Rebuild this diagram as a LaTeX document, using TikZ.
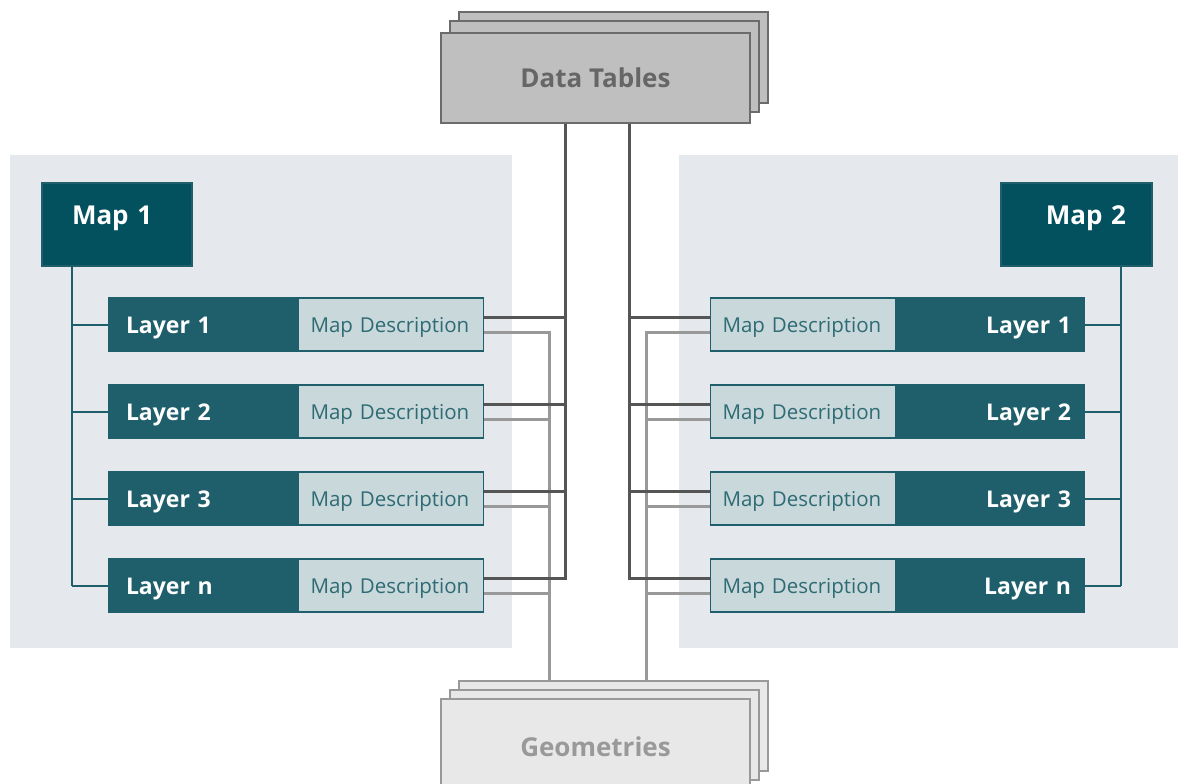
\documentclass[tikz,border=0pt]{standalone}
\usepackage{fontspec}
\setmainfont{Open Sans}
\usetikzlibrary{positioning}
\definecolor{panelbg}{HTML}{E5E9ED}
\definecolor{mapfill}{HTML}{03505E}
\definecolor{layerfill}{HTML}{1F5F6B}
\definecolor{descfill}{HTML}{C8D8DB}
\definecolor{desctext}{HTML}{2F6B74}
\definecolor{darkwire}{HTML}{555555}
\definecolor{lightwire}{HTML}{999999}
\tikzstyle{dtbox} = [rectangle, draw=black!58, line width=2pt, fill=black!25, minimum width=309pt, minimum height=90pt, text=black!60, font=\bfseries\fontsize{26}{26}\selectfont]
\tikzstyle{geobox} = [rectangle, draw=black!40, line width=2pt, fill=black!9, minimum width=309pt, minimum height=90pt, text=black!40, font=\bfseries\fontsize{26}{26}\selectfont]
\tikzstyle{mapbox} = [rectangle, draw=layerfill, line width=1.5pt, fill=mapfill, text=white, minimum width=150pt, minimum height=83pt, inner xsep=30pt, text width=90pt, text height=19pt, text depth=19pt, font=\bfseries\fontsize{26}{26}\selectfont]
\tikzstyle{layerL} = [rectangle, draw=layerfill, line width=1.5pt, fill=layerfill, text=white, minimum height=53pt, inner xsep=17pt, text width=154pt, align=left, text height=17pt, text depth=0pt, font=\bfseries\fontsize{23}{23}\selectfont]
\tikzstyle{layerR} = [layerL, inner xsep=13pt, text width=161pt, align=right]
\tikzstyle{descL} = [rectangle, draw=layerfill, line width=1.5pt, fill=descfill, text=desctext, minimum height=53pt, inner xsep=12pt, text width=161pt, align=left, text height=15pt, text depth=0pt, font=\fontsize{20.5}{21}\selectfont]
\tikzstyle{treeline} = [layerfill, line width=2pt]
\tikzstyle{darkline} = [darkwire, line width=3pt]
\tikzstyle{lightline} = [lightwire, line width=3pt]

\begin{document}
\begin{tikzpicture}[x=1pt, y=-1pt]
\useasboundingbox (0,0) rectangle (1178,784);
\clip (0,0) rectangle (1178,784);
\fill[panelbg] (10,155) rectangle (512,648);
\fill[panelbg] (679,155) rectangle (1178,648);

\node (dt3) [dtbox] at (613.5,57.5) {};
\node (dt2) [dtbox] at (604.5,66.5) {};
\node (dt) [dtbox, text height=19pt, text depth=0pt] at (595.5,78) {Data Tables};
\node (geo3) [geobox] at (613.5,726) {};
\node (geo2) [geobox] at (604.5,735) {};
\node (geo) [geobox, text height=24pt, text depth=0pt] at (595.5,744) {Geometries};

\coordinate (dtL) at ([xshift=-30.5pt]dt.south);
\coordinate (dtR) at ([xshift=33.5pt]dt.south);
\coordinate (geoL) at ([xshift=-64.5pt]geo3.north);
\coordinate (geoR) at ([xshift=32.5pt]geo3.north);

\node (m1) [mapbox, align=left] at (117,224.5) {Map 1};
\node (m2) [mapbox, align=right, inner xsep=26pt, text width=99pt] at (1076.5,224.5) {Map 2};
\coordinate (treeL) at ([xshift=-45pt]m1.south);
\coordinate (treeR) at ([xshift=44.5pt]m2.south);

\foreach \i/\n in {1/1,2/2,3/3,4/n}{
  \pgfmathsetmacro{\y}{324.5+87*(\i-1)}
  \node (ll\i) [layerL] at (203,\y) {Layer \n};
  \node (ld\i) [descL, right=0pt of ll\i] {Map Description};
  \node (rl\i) [layerR] at (990.5,\y) {Layer \n};
  \node (rd\i) [descL, left=0pt of rl\i] {Map Description};
  \coordinate (ldk\i) at ([yshift=7.5pt]ld\i.east);
  \coordinate (llt\i) at ([yshift=-7.5pt]ld\i.east);
  \coordinate (rdk\i) at ([yshift=7.5pt]rd\i.west);
  \coordinate (rlt\i) at ([yshift=-7.5pt]rd\i.west);
  \draw [treeline] (ll\i.west) -- (ll\i.west -| treeL);
  \draw [treeline] (rl\i.east) -- (rl\i.east -| treeR);
}
\draw [treeline] (treeL) -- (treeL |- ll4.west);
\draw [treeline] (treeR) -- (treeR |- rl4.east);

\foreach \i in {1,...,4}{
  \draw [lightline] (llt\i) -| (geoL);
  \draw [lightline] (rlt\i) -| (geoR);
}
\foreach \i in {1,...,4}{
  \draw [darkline] (ldk\i) -| (dtL);
  \draw [darkline] (rdk\i) -| (dtR);
}
\end{tikzpicture}
\end{document}
